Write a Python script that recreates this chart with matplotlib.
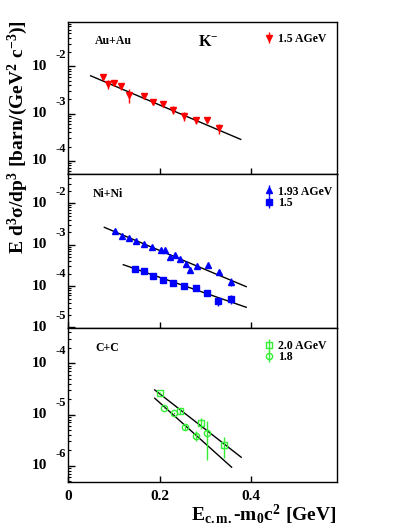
import matplotlib
matplotlib.use("Agg")
import matplotlib.pyplot as plt
import numpy as np

plt.rcParams['font.family'] = ['Liberation Serif', 'DejaVu Serif']
plt.rcParams['font.weight'] = 'bold'
plt.rcParams['mathtext.fontset'] = 'custom'
plt.rcParams['mathtext.rm'] = 'Liberation Serif:bold'
plt.rcParams['mathtext.it'] = 'Liberation Serif:bold'
plt.rcParams['mathtext.bf'] = 'Liberation Serif:bold'
plt.rcParams['mathtext.default'] = 'rm'

### Au+Au 1.5 AGeV
au_x = [0.075, 0.086, 0.100, 0.116, 0.132, 0.166, 0.186, 0.208, 0.230, 0.254, 0.279, 0.304, 0.330]
au_y = [5.85e-3, 4.16e-3, 4.37e-3, 3.88e-3, 2.47e-3, 2.31e-3, 1.75e-3, 1.59e-3,
        1.20e-3, 8.85e-4, 7.18e-4, 7.18e-4, 4.85e-4]
au_err = [0.4e-3, 0.9e-3, 0.3e-3, 0.66e-3, 0.82e-3, 0.15e-3, 0.15e-3, 0.1e-3,
          0.23e-3, 2.0e-4, 1.1e-4, 0.5e-4, 1.1e-4]
au_fit_x = [0.049, 0.378]
au_fit_y = [6.32e-3, 2.84e-4]

### Ni+Ni 1.93 AGeV
ni193_x = [0.103, 0.118, 0.1325, 0.149, 0.166, 0.184, 0.203, 0.213, 0.224, 0.235,
           0.245, 0.258, 0.267, 0.2815, 0.306, 0.331, 0.356]
ni193_y = [2.14e-3, 1.65e-3, 1.43e-3, 1.21e-3, 1.04e-3, 8.65e-4, 7.32e-4, 7.45e-4, 4.96e-4, 5.55e-4,
           4.44e-4, 3.48e-4, 2.45e-4, 3.11e-4, 3.18e-4, 2.16e-4, 1.26e-4]
ni193_err = [0.1e-3, 0.08e-3, 0.07e-3, 0.06e-3, 0.05e-3, 0.4e-4, 0.4e-4, 0.4e-4, 0.3e-4, 0.3e-4,
             0.3e-4, 0.3e-4, 0.4e-4, 0.2e-4, 0.2e-4, 0.35e-4, 0.28e-4]
ni193_fit_x = [0.079, 0.390]
ni193_fit_y = [2.63e-3, 9.7e-5]

### Ni+Ni 1.5 AGeV
ni15_x = [0.1456, 0.165, 0.185, 0.207, 0.230, 0.254, 0.279, 0.3035, 0.329, 0.356]
ni15_y = [2.63e-4, 2.35e-4, 1.78e-4, 1.43e-4, 1.22e-4, 9.9e-5, 8.85e-5, 6.93e-5, 4.34e-5, 4.96e-5]
ni15_err = [1.3e-5, 1.2e-5, 0.9e-5, 0.8e-5, 0.7e-5, 0.6e-5, 0.5e-5, 0.5e-5, 1.0e-5, 1.3e-5]
ni15_fit_x = [0.1206, 0.390]
ni15_fit_y = [3.29e-4, 3.08e-5]

### C+C 2.0 AGeV
cc20_x = [0.200, 0.245, 0.2917, 0.342]
cc20_y = [2.61e-5, 1.18e-5, 6.92e-6, 2.54e-6]
cc20_err = [1.0e-6, 1.5e-6, 1.6e-6, 1.1e-6]
cc20_fit_x = [0.1895, 0.379]
cc20_fit_y = [3.02e-5, 1.47e-6]

### C+C 1.8 AGeV
cc18_x = [0.2105, 0.2325, 0.255, 0.279, 0.3035]
cc18_y = [1.37e-5, 1.07e-5, 5.75e-6, 3.88e-6, 4.32e-6]
cc18_err = [0.5e-6, 0.5e-6, 0.8e-6, 0.9e-6, 3.0e-6]
cc18_fit_x = [0.1895, 0.358]
cc18_fit_y = [2.08e-5, 9.4e-7]

x_ticks = [0, 0.2, 0.4]
x_ticklabels = ["0", "0.2", "0.4"]

fig = plt.figure(figsize=(4.09, 5.29), dpi=100)
left, width = 0.167, 0.658
ax1 = fig.add_axes([left, 0.6711, width, 0.2873])
ax2 = fig.add_axes([left, 0.3794, width, 0.2917])
ax3 = fig.add_axes([left, 0.0894, width, 0.2900])

ylims = [(10**-4.28, 10**-1.06), (10**-5.02, 10**-1.29), (10**-6.31, 10**-3.318)]
yticks = [[-2, -3, -4], [-2, -3, -4, -5], [-4, -5, -6]]

for ax, lim, exps in zip([ax1, ax2, ax3], ylims, yticks):
    ax.set_yscale('log')
    ax.set_xlim(0, 0.59)
    ax.set_ylim(*lim)
    ax.set_xticks(x_ticks)
    ax.set_xticklabels([])
    ax.set_yticks([10.0**e for e in exps])
    ax.set_yticklabels([])
    ax.tick_params(axis='y', which='major', direction='in', length=5, width=1, left=True, right=False)
    ax.tick_params(axis='y', which='minor', direction='in', length=2.5, width=0.8, left=True, right=False)
    ax.tick_params(axis='x', which='major', direction='in', length=4, width=1, top=False)
    ax.tick_params(axis='x', which='minor', bottom=False)
    for s in ax.spines.values():
        s.set_linewidth(1.0)
    # tick labels in ROOT style: "10" with raised exponent
    for e in exps:
        ax.annotate("10", xy=(0, 10.0**e), xycoords=ax.get_yaxis_transform(),
                    xytext=(-15.5, 0), textcoords='offset points', ha='right', va='center',
                    fontsize=11, fontweight='bold')
        ax.annotate(str(e), xy=(0, 10.0**e), xycoords=ax.get_yaxis_transform(),
                    xytext=(-9.5, 8.5), textcoords='offset points', ha='left', va='center',
                    fontsize=9, fontweight='bold')

ax3.set_xticklabels(x_ticklabels, fontsize=11, fontweight='bold')
ax3.tick_params(axis='x', pad=6)

red = '#ff0000'
blue = '#0000ff'
green = '#33ee33'

# Au+Au
ax1.plot(au_fit_x, au_fit_y, color='black', lw=1.0)
ax1.errorbar(au_x, au_y, yerr=au_err, fmt='v', color=red, ms=4.5, elinewidth=1.0,
             capsize=0, label='1.5 AGeV')
ax1.text(0.099, 0.877, 'Au+Au', transform=ax1.transAxes, fontsize=8.5, va='center', ha='left')
ax1.text(0.52, 0.868, r'$\mathrm{K^{-}}$', transform=ax1.transAxes, fontsize=11.5, va='center', ha='center')

# Ni+Ni
ax2.plot(ni193_fit_x, ni193_fit_y, color='black', lw=1.0)
ax2.plot(ni15_fit_x, ni15_fit_y, color='black', lw=1.0)
ax2.errorbar(ni193_x, ni193_y, yerr=ni193_err, fmt='^', color=blue, ms=4.3, elinewidth=1.0,
             capsize=0, label='1.93 AGeV')
ax2.errorbar(ni15_x, ni15_y, yerr=ni15_err, fmt='s', color=blue, ms=4.0, elinewidth=1.0,
             capsize=0, label='1.5')
ax2.text(0.091, 0.870, 'Ni+Ni', transform=ax2.transAxes, fontsize=8.5, va='center', ha='left')

# C+C
ax3.plot(cc20_fit_x, cc20_fit_y, color='black', lw=1.0)
ax3.plot(cc18_fit_x, cc18_fit_y, color='black', lw=1.0)
ax3.errorbar(cc20_x, cc20_y, yerr=cc20_err, fmt='s', color=green, mfc='none', mec=green,
             ms=4.5, mew=1.0, elinewidth=1.0, capsize=0, label='2.0 AGeV')
ax3.errorbar(cc18_x, cc18_y, yerr=cc18_err, fmt='o', color=green, mfc='none', mec=green,
             ms=4.5, mew=1.0, elinewidth=1.0, capsize=0, label='1.8')
ax3.text(0.099, 0.874, 'C+C', transform=ax3.transAxes, fontsize=8.5, va='center', ha='left')

for ax, top in zip([ax1, ax2, ax3], [0.93, 0.925, 0.925]):
    ax.legend(loc='upper left', bbox_to_anchor=(0.73, top), frameon=False,
              handlelength=0.8, handletextpad=0.3, labelspacing=-0.05,
              borderpad=0, borderaxespad=0, prop={'size': 8.5, 'weight': 'bold'})

fig.text(18 / 409, 0.741, r'$\mathrm{E\ d^{3}\sigma/dp^{3}\ [barn/(GeV^{2}\ c^{-3})]}$',
         rotation=90, ha='center', va='center', fontsize=14)
fig.text(0.822, 0.027, r'$\mathrm{E_{c.m.}\text{-}m_{0}c^{2}\ [GeV]}$',
         ha='right', va='center', fontsize=14)

fig.savefig('out.png', dpi=100)
